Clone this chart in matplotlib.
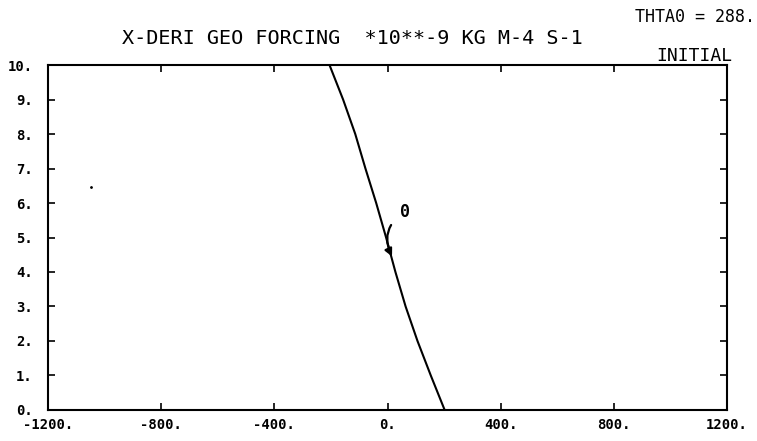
import numpy as np
import matplotlib
matplotlib.use("Agg")
import matplotlib.pyplot as plt

# profile: height (0..10) vs forcing value
height = [0, 1, 2, 3, 4, 5, 6, 7, 8, 9, 10]
forcing = [202, 153, 106, 64, 28, -5, -40, -78, -114, -157, -205]

xticks = [-1200, -800, -400, 0, 400, 800, 1200]
yticks = [0, 1, 2, 3, 4, 5, 6, 7, 8, 9, 10]

# contour label "0" and where its arrow hits the curve
label_text = "0"
label_at = (62, 5.75)
arrow_to = (16, 4.45)

# lone speck on the scan
speck = (-1048, 6.46)

plt.rcParams['font.family'] = ['DejaVu Sans Mono']

fig = plt.figure(figsize=(7.57, 4.41), dpi=100)
ax = fig.add_axes([0.0634, 0.0703, 0.897, 0.7823])

ax.plot(forcing, height, color='black', linewidth=1.5)
ax.plot([speck[0]], [speck[1]], marker='.', markersize=2, color='black')

ax.annotate(label_text, xy=arrow_to, xytext=label_at, fontsize=12,
            fontweight='bold', ha='center', va='center',
            arrowprops=dict(arrowstyle='-|>', color='black', lw=1.6,
                            mutation_scale=11, shrinkA=7, shrinkB=0,
                            connectionstyle='arc3,rad=0.45'))

ax.set_xlim(-1200, 1200)
ax.set_ylim(0, 10)
ax.set_xticks(xticks)
ax.set_yticks(yticks)
ax.set_xticklabels([f"{v}." for v in xticks], fontweight='bold', fontsize=10)
ax.set_yticklabels([f"{v}." for v in yticks], fontweight='bold', fontsize=10)
ax.tick_params(direction='in', length=5, width=1.2, top=True, right=True)
ax.tick_params(axis='x', pad=6)
ax.tick_params(axis='y', pad=11)
for s in ax.spines.values():
    s.set_linewidth(1.5)

fig.text(0.466, 0.912, "X-DERI GEO FORCING  *10**-9 KG M-4 S-1",
         fontsize=14.5, ha='center', va='center')
fig.text(0.997, 0.962, "THTA0 = 288.", fontsize=12, ha='right', va='center')
fig.text(0.967, 0.872, "INITIAL", fontsize=13, ha='right', va='center')

fig.savefig("out.png", dpi=100)
